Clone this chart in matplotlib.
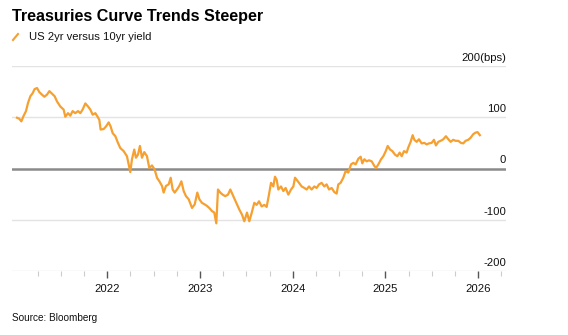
import matplotlib
matplotlib.use("Agg")
import matplotlib.pyplot as plt
from matplotlib.ticker import FixedLocator, NullFormatter
import matplotlib.transforms as mtransforms

plt.rcParams['font.family'] = ['Liberation Sans', 'DejaVu Sans']

title = "Treasuries Curve Trends Steeper"
series_name = "US 2yr versus 10yr yield"
source = "Source: Bloomberg"

# decimal year, spread in bps
years = [2021.026, 2021.051, 2021.073, 2021.098, 2021.123, 2021.145, 2021.170, 2021.195, 2021.216, 2021.242,
         2021.267, 2021.296, 2021.321, 2021.349, 2021.375, 2021.404, 2021.432, 2021.457, 2021.493, 2021.529,
         2021.547, 2021.576, 2021.601, 2021.626, 2021.655, 2021.684, 2021.709, 2021.734, 2021.763, 2021.792,
         2021.817, 2021.842, 2021.871, 2021.892, 2021.914, 2021.928, 2021.961, 2021.986, 2022.015, 2022.036,
         2022.058, 2022.087, 2022.115, 2022.140, 2022.176, 2022.212, 2022.248, 2022.266, 2022.291, 2022.309,
         2022.331, 2022.352, 2022.374, 2022.399, 2022.428, 2022.453, 2022.482, 2022.511, 2022.536, 2022.562,
         2022.590, 2022.608, 2022.633, 2022.662, 2022.684, 2022.705, 2022.727, 2022.752, 2022.777, 2022.799,
         2022.824, 2022.849, 2022.878, 2022.914, 2022.943, 2022.971, 2022.993, 2023.021, 2023.050, 2023.075,
         2023.100, 2023.129, 2023.154, 2023.176, 2023.194, 2023.219, 2023.244, 2023.273, 2023.302, 2023.327,
         2023.352, 2023.374, 2023.399, 2023.424, 2023.453, 2023.478, 2023.507, 2023.532, 2023.557, 2023.586,
         2023.611, 2023.637, 2023.665, 2023.694, 2023.719, 2023.744, 2023.766, 2023.791, 2023.809, 2023.827,
         2023.845, 2023.874, 2023.899, 2023.924, 2023.953, 2023.982, 2024.007, 2024.025, 2024.043, 2024.068,
         2024.097, 2024.126, 2024.150, 2024.176, 2024.204, 2024.233, 2024.258, 2024.284, 2024.312, 2024.341,
         2024.366, 2024.392, 2024.420, 2024.449, 2024.474, 2024.492, 2024.517, 2024.546, 2024.571, 2024.600,
         2024.629, 2024.654, 2024.679, 2024.708, 2024.733, 2024.751, 2024.773, 2024.798, 2024.823, 2024.852,
         2024.881, 2024.899, 2024.924, 2024.953, 2024.978, 2025.004, 2025.025, 2025.050, 2025.075, 2025.104,
         2025.129, 2025.154, 2025.176, 2025.201, 2025.229, 2025.247, 2025.272, 2025.294, 2025.312, 2025.337,
         2025.362, 2025.391, 2025.420, 2025.445, 2025.470, 2025.499, 2025.524, 2025.545, 2025.571, 2025.596,
         2025.625, 2025.653, 2025.679, 2025.704, 2025.732, 2025.757, 2025.786, 2025.815, 2025.840, 2025.865,
         2025.894, 2025.919, 2025.948, 2025.973, 2025.994, 2026.019]
spread = [99, 97, 92, 103, 112, 128, 141, 147, 155, 157,
          149, 144, 140, 144, 151, 146, 141, 131, 121, 115,
          101, 108, 103, 112, 108, 112, 108, 115, 127, 121,
          115, 105, 108, 102, 95, 76, 77, 82, 90, 82,
          69, 63, 50, 40, 34, 24, -7, 18, 37, 21,
          27, 44, 21, 32, 24, 1, 6, -2, -18, -25,
          -34, -47, -34, -31, -18, -41, -47, -41, -34, -25,
          -44, -54, -60, -77, -70, -47, -60, -67, -70, -73,
          -77, -83, -86, -107, -41, -47, -51, -54, -51, -41,
          -51, -60, -70, -80, -90, -103, -86, -103, -87, -67,
          -71, -64, -74, -71, -75, -51, -28, -35, -16, -22,
          -41, -35, -44, -38, -51, -41, -35, -18, -22, -28,
          -35, -38, -41, -35, -41, -35, -38, -31, -28, -35,
          -31, -41, -38, -46, -49, -31, -28, -18, -5, -8,
          8, 11, 8, 19, 23, 10, 18, 14, 16, 14,
          5, 1, 8, 18, 24, 34, 44, 37, 34, 27,
          24, 31, 24, 34, 31, 41, 52, 65, 56, 52,
          57, 49, 50, 47, 49, 50, 56, 45, 52, 54,
          57, 63, 57, 52, 56, 54, 54, 50, 49, 54,
          56, 60, 67, 70, 71, 65]

y_ticks = [200, 100, 0, -100, -200]
y_labels = ["200(bps)", "100", "0", "-100", "-200"]
x_major = [2022, 2023, 2024, 2025, 2026]
x_labels = ["2022", "2023", "2024", "2025", "2026"]
x_minor = [2021.25, 2021.5, 2021.75, 2022.25, 2022.5, 2022.75, 2023.25, 2023.5, 2023.75,
           2024.25, 2024.5, 2024.75, 2025.25, 2025.5, 2025.75, 2026.25]

line_color = "#F5A030"

fig = plt.figure(figsize=(5.68, 3.35), dpi=100)
ax = fig.add_axes([12/568, 64/335, 494/568, 205/335])

for v in y_ticks:
    if v == 0:
        ax.axhline(v, color="#8a8a8a", lw=1.8, zorder=2)
    else:
        ax.axhline(v, color="#e3e3e3", lw=1.0, zorder=1)

ax.plot(years, spread, color=line_color, lw=1.6, zorder=3)

ax.set_xlim(2020.972, 2026.301)
ax.set_ylim(-200, 200)
for s in ax.spines.values():
    s.set_visible(False)
ax.set_yticks([])
ax.xaxis.set_major_locator(FixedLocator(x_major))
ax.set_xticklabels(x_labels)
ax.xaxis.set_minor_locator(FixedLocator(x_minor))
ax.xaxis.set_minor_formatter(NullFormatter())
ax.tick_params(axis='x', which='major', length=5, width=1.0, color="#555555",
               labelsize=8.1, pad=4, labelcolor="#111111")
ax.tick_params(axis='x', which='minor', length=3.5, width=0.8, color="#cccccc")

trans = mtransforms.blended_transform_factory(ax.transAxes, ax.transData)
for v, lab in zip(y_ticks, y_labels):
    ax.text(1.0, v + 6, lab, transform=trans, ha='right', va='bottom',
            fontsize=8.1, color="#111111")

fig.text(12/568, 1 - 17/335, title, fontsize=11.6, fontweight='bold',
         ha='left', va='center', color="#000000")
# legend marker
fig.lines.append(plt.Line2D([13/568, 18/568], [1 - 40/335, 1 - 34/335],
                            transform=fig.transFigure, color=line_color, lw=1.5))
fig.text(29/568, 1 - 37/335, series_name, fontsize=8.1, ha='left', va='center', color="#111111")
fig.text(12/568, 1 - 318/335, source, fontsize=7.2, ha='left', va='center', color="#111111")

fig.savefig("out.png", dpi=100, facecolor="white")
